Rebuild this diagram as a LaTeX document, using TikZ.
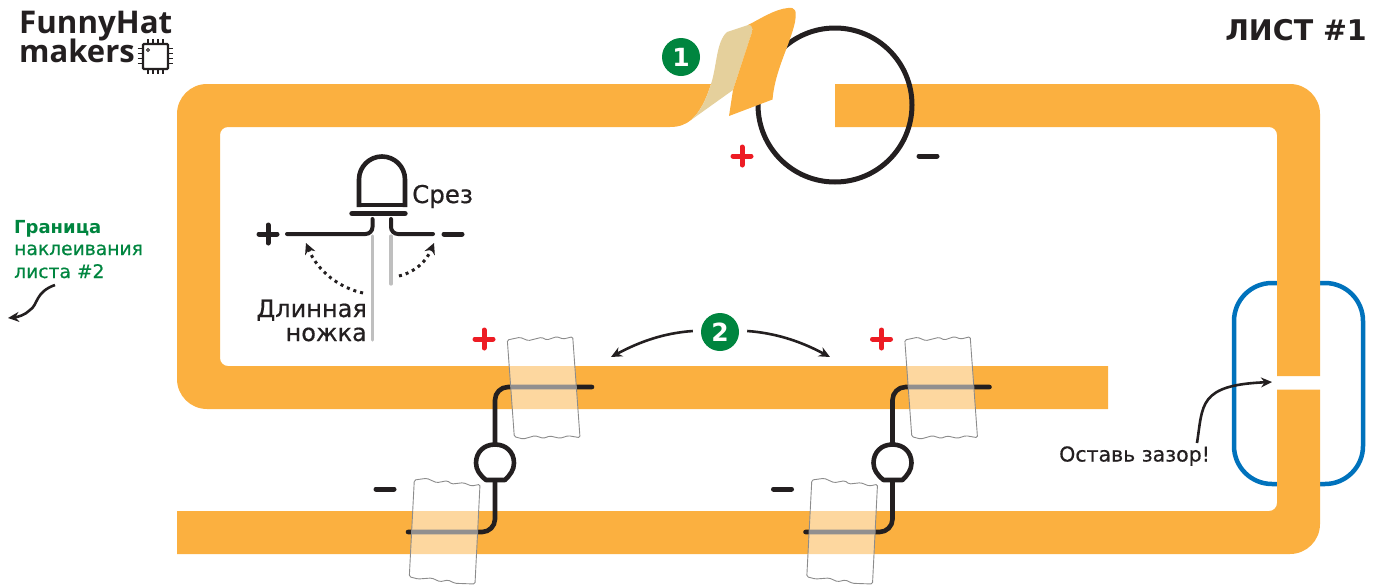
\documentclass[tikz,border=0pt]{standalone}
\usepackage{fontspec}
\setmainfont{DejaVu Sans}
\newfontfamily\logofont{Open Sans}
\newfontfamily\handfont[FakeBold=0.6]{DejaVu Sans}
\usetikzlibrary{positioning,calc,arrows.meta}

\definecolor{tapeorange}{HTML}{FBB040}
\definecolor{peelbeige}{HTML}{E5D09C}
\definecolor{inkblack}{HTML}{231F20}
\definecolor{markred}{HTML}{ED1C24}
\definecolor{stepgreen}{HTML}{00853F}
\definecolor{clipblue}{HTML}{0072BC}

\tikzset{
    wirestyle/.style={inkblack, line width=4.6pt, line cap=round, rounded corners=13pt},
    legstyle/.style={draw=black!25, line width=3.2pt, line cap=round},
    arrowstyle/.style={inkblack, line width=2.6pt, -{Stealth[length=11pt,width=10pt]}},
    dotstyle/.style={inkblack, line width=3pt, dash pattern=on 3pt off 4pt, -{Stealth[length=11pt,width=11pt]}},
    stepnum/.style={circle, fill=stepgreen, text=white, minimum size=38pt, inner sep=0pt,
        font=\fontsize{25}{25}\selectfont\bfseries},
    clipstyle/.style={draw=black!45, line width=.9pt, fill=white, fill opacity=.5, rounded corners=1.5pt},
    handtext/.style={inkblack, inner sep=0pt, font=\handfont\fontsize{20.5}{21}\selectfont},
    greentext/.style={stepgreen, inner sep=0pt, anchor=base west, font=\handfont\fontsize{18.7}{19}\selectfont},
    plusmark/.pic={\draw[line width=5pt, line cap=round] (-9,0) -- (9,0) (0,-9) -- (0,9);},
    minusmark/.pic={\draw[line width=5pt, line cap=round] (-9,0) -- (9,0);},
}

\begin{document}
\begin{tikzpicture}[x=1pt, y=-1pt]

        \useasboundingbox (0,0) rectangle (1379,584);

        % Blue clip goes under the tape
        \draw[clipblue, line width=4.5pt, rounded corners=38pt] (1234,283) rectangle (1363,484);

        % Copper tape, three pieces
        \fill[tapeorange] (711,84) [rounded corners=30pt] -- (177,84) -- (177,409)
            [sharp corners] -- (1108,409) -- (1108,366)
            [rounded corners=8pt] -- (220,366) -- (220,127)
            [sharp corners] -- (670,127) .. controls (680,127) and (686,124) .. (691,120)
            .. controls (700,112) and (706,100) .. (711,84) -- cycle;
        \fill[tapeorange] (835,127) -- (835,84) [rounded corners=30pt] -- (1320,84)
            [sharp corners] -- (1320,376) -- (1277,376)
            [rounded corners=8pt] -- (1277,127) [sharp corners] -- cycle;
        \fill[tapeorange] (1320,389.5) [rounded corners=30pt] -- (1320,554)
            [sharp corners] -- (177,554) -- (177,511)
            [rounded corners=8pt] -- (1277,511) [sharp corners] -- (1277,389.5) -- cycle;

        % Battery outline and the peeled end of the tape on top of it
        \draw[inkblack, line width=5pt] (835,105) circle (77);
        \fill[peelbeige] (691,120) .. controls (700,112) and (706,100) .. (711,84)
            .. controls (717,66) and (716,42) .. (727,32)
            -- (748,25) .. controls (752,25) and (753,28) .. (752,32)
            -- (733,90) -- cycle;
        \fill[tapeorange] (729,116) -- (772.5,99.5) .. controls (775,70) and (790,45) .. (795,22)
            .. controls (797,10) and (795,7) .. (788,8)
            .. controls (775,9) and (760,19) .. (748,25)
            .. controls (752,25) and (753,28) .. (752,32) -- (733,90) -- cycle;

        % Polarity marks
        \pic[color=markred] at (742,156) {plusmark};
        \pic[color=inkblack] at (928,156) {minusmark};
        \pic[color=inkblack] at (268,234) {plusmark};
        \pic[color=inkblack] at (453,234) {minusmark};

        % Big LED
        \draw[legstyle] (372.5,236) -- (372.5,340);
        \draw[legstyle] (391,236) -- (391,284);
        \draw[inkblack, line width=4.6pt, rounded corners=23pt] (359,207) -- (359,156.5) -- (405,156.5) -- (405,207);
        \draw[inkblack, line width=4pt] (359,205) -- (405,205);
        \draw[inkblack, line width=5.4pt, line cap=round] (352,213.5) -- (405,213.5);
        \draw[inkblack, line width=4pt, line cap=round, rounded corners=7pt] (372.5,219) -- (372.5,234) -- (287,234);
        \draw[inkblack, line width=4pt, line cap=round, rounded corners=7pt] (391,219) -- (391,234) -- (433,234);

        \coordinate (dotA) at (363,293);
        \coordinate (dotB) at (306,243);
        \coordinate (dotC) at (399,276);
        \coordinate (dotD) at (434,243);
        \draw[dotstyle] (dotA) .. controls (340,288) and (318,272) .. (dotB);
        \draw[dotstyle] (dotC) .. controls (415,272) and (426,262) .. (dotD);

        \node[handtext, anchor=base west, font=\handfont\fontsize{24.5}{25}\selectfont] (lblCut) at (412,203) {Срез};
        \node[handtext, anchor=base east, font=\handfont\fontsize{24}{24}\selectfont] (lblLongA) at (367,317) {Длинная};
        \node[handtext, anchor=base east, font=\handfont\fontsize{24}{24}\selectfont] (lblLongB) at (367,341) {ножка};

        % Two small LEDs with their pieces of sticky tape
        \foreach \dx in {0,397.5} {
            \begin{scope}[shift={(\dx,0)}]
                \draw[wirestyle] (495,445) -- (495,387) -- (592,387);
                \draw[wirestyle] (495,480) -- (495,532) -- (408,532);
                \draw[inkblack, line width=4.6pt, fill=white, line join=round]
                    (486,480) .. controls (480,475) and (476,470) .. (476,463)
                    .. controls (476,452) and (484,444.5) .. (495,444.5)
                    .. controls (506,444.5) and (514,452) .. (514,463)
                    .. controls (514,470) and (510,475) .. (505,480) -- cycle;
                \draw[clipstyle] (507.3,340) -- (520,337.3) -- (528.3,340.7) -- (541.7,337.3) -- (546.7,340)
                    -- (556.7,336.7) -- (563.3,339) -- (572.7,336.7) -- (580,437.7) -- (568.3,435.7)
                    -- (560,438.3) -- (550,436) -- (543.3,438.3) -- (535,435.7) -- (523.3,439) -- (514.3,436.7) -- cycle;
                \draw[clipstyle] (414.3,480) -- (426.7,478.3) -- (436.7,482.7) -- (447.3,480.7) -- (451.7,484)
                    -- (463.3,482.7) -- (471.7,486) -- (480,484.3) -- (475,584) -- (455,583.3) -- (448,580)
                    -- (440,581.7) -- (431.7,578) -- (418,579) -- (409.3,576.7) -- cycle;
                \pic[color=markred] at (484,339) {plusmark};
                \pic[color=inkblack] at (385,489) {minusmark};
            \end{scope}
        }

        % Step numbers
        \node[stepnum] (numOne) at (681,57) {1};
        \node[stepnum] (numTwo) at (720,332) {2};
        \coordinate (twoLeft) at (611,357);
        \coordinate (twoRight) at (830,357);
        \draw[arrowstyle] ($(numTwo.west)+(-8,-1)$) .. controls +(-28,2) and +(30,-16) .. (twoLeft);
        \draw[arrowstyle] ($(numTwo.east)+(8,-1)$) .. controls +(28,2) and +(-30,-16) .. (twoRight);

        % Gap note
        \node[handtext, anchor=base west] (lblGap) at (1059,461.5) {Оставь зазор!};
        \coordinate (gapStart) at (1197,443);
        \coordinate (gapTip) at (1272,382);
        \draw[arrowstyle] (gapStart) .. controls (1203,405) and (1198,385) .. (gapTip);

        % Green note on the left
        \node[greentext, font=\fontsize{18}{18}\selectfont\bfseries] (lblBorder) at (14,233) {Граница};
        \node[greentext] (lblGlue) at (14,255) {наклеивания};
        \node[greentext] (lblSheet) at (14,278) {листа \#2};
        \coordinate (borderStart) at (55,285);
        \coordinate (borderTip) at (8,318);
        \draw[arrowstyle] (borderStart) .. controls (35,292) and (38,305) .. (30,310)
            .. controls (25,315) and (18,317) .. (borderTip);

        % Sheet title
        \node[inkblack, inner sep=0pt, anchor=base east, font=\fontsize{28.5}{29}\selectfont\bfseries] (sheetTitle) at (1367,40) {ЛИСТ \#1};

        % Logo
        \node[inkblack, inner sep=0pt, anchor=base west, font=\logofont\fontsize{31.3}{32}\selectfont\bfseries] (logoTop) at (19,33) {FunnyHat};
        \node[inkblack, inner sep=0pt, anchor=base west, font=\logofont\fontsize{31}{32}\selectfont\bfseries] (logoBottom) at (19,62) {makers};
        \draw[inkblack, line width=2.4pt, rounded corners=1pt] (143,44) rectangle (168,69);
        \draw[inkblack, line width=.9pt] (148,50) circle (1.6);
        \foreach \p in {0,5,10,15} {
            \draw[inkblack, line width=1.2pt] (137.5,48.5+\p) -- (143,48.5+\p);
            \draw[inkblack, line width=1.2pt] (168,48.5+\p) -- (173,48.5+\p);
            \draw[inkblack, line width=1.2pt] (148+\p,39) -- (148+\p,44);
            \draw[inkblack, line width=1.2pt] (148+\p,69) -- (148+\p,74);
        }

\end{tikzpicture}
\end{document}
